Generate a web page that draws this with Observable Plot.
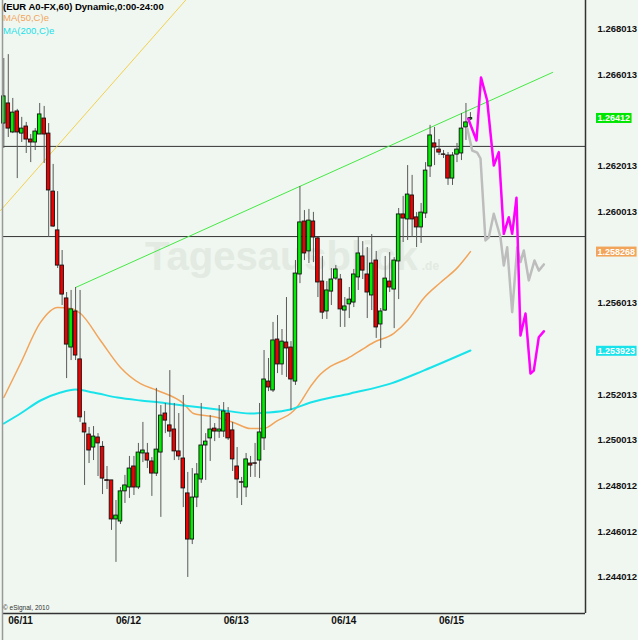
<!DOCTYPE html>
<html><head><meta charset="utf-8">
<script src="https://cdn.jsdelivr.net/npm/d3@7"></script>
<script src="https://cdn.jsdelivr.net/npm/@observablehq/plot@0.6"></script>
<style>
html,body{margin:0;padding:0;background:#f0f7f0;}
#wrap{position:relative;width:638px;height:640px;overflow:hidden;background:#f0f7f0;font-family:"Liberation Sans",Arial,sans-serif;}
#wm{position:absolute;left:145px;top:234px;font:bold 40px "Liberation Sans",Arial,sans-serif;color:#e2eae2;white-space:nowrap;}
#wm span{font-size:12px;margin-left:4px;}
#chart{position:absolute;left:0;top:0;}
.hdr{position:absolute;left:3px;font-size:9.5px;line-height:11px;white-space:nowrap;}
</style></head><body>
<div id="wrap">
  <div id="wm">Tagesausblick<span>.de</span></div>
  <div id="chart"></div>
  <div class="hdr" style="top:1px;font-weight:bold;color:#000">(EUR A0-FX,60) Dynamic,0:00-24:00</div>
  <div class="hdr" style="top:11.5px;color:#f2a45a">MA(50,C)e</div>
  <div class="hdr" style="top:24.5px;color:#19dfe8">MA(200,C)e</div>
  <div class="hdr" style="top:602px;font-size:6.5px;color:#333">© eSignal, 2010</div>
</div>
<script>
// ---- data (hourly candles, index 0 = 06/10 23:00) ----
const opens = [1.26388,1.26476,1.26349,1.26441,1.26344,1.26375,1.26318,1.26305,1.26340,1.26410,
1.26344,1.26090,1.25920,1.25766,1.25622,1.25407,1.25565,1.25355,1.25074,1.25026,
1.24969,1.25013,1.24972,1.24826,1.24825,1.24654,1.24645,1.24777,1.24794,1.24886,
1.24794,1.24943,1.24943,1.24908,1.24855,1.24947,1.25118,1.25066,1.25048,1.24952,
1.24921,1.24768,1.24566,1.24750,1.24829,1.24978,1.25009,1.25052,1.25039,1.25039,
1.25118,1.25044,1.24886,1.24817,1.24794,1.24899,1.24900,1.24912,1.25009,1.25258,
1.25219,1.25442,1.25333,1.25429,1.25407,1.25258,1.25727,1.25959,1.25828,1.25959,
1.25885,1.25696,1.25565,1.25652,1.25709,1.25705,1.25569,1.25596,1.25604,1.25714,
1.25806,1.25727,1.25635,1.25788,1.25508,1.25569,1.25696,1.25661,1.25784,1.25990,
1.25968,1.26073,1.25977,1.25933,1.25994,1.26200,1.26301,1.26274,1.26253,1.26248,
1.26147,1.26252,1.26257,1.26371,1.26406];
const highs = [1.26673,1.26690,1.26498,1.26450,1.26415,1.26393,1.26340,1.26366,1.26476,1.26463,
1.26388,1.26209,1.26090,1.25832,1.25648,1.25657,1.25670,1.25657,1.25127,1.25057,
1.25061,1.25030,1.24995,1.24886,1.24825,1.24737,1.24794,1.24847,1.24930,1.24930,
1.24987,1.25079,1.24987,1.24925,1.25228,1.25153,1.25162,1.25306,1.25162,1.25118,
1.25197,1.24860,1.24877,1.24899,1.25162,1.25030,1.25109,1.25074,1.25153,1.25166,
1.25144,1.25079,1.24969,1.24838,1.24943,1.24930,1.24987,1.25162,1.25394,1.25359,
1.25517,1.25547,1.25486,1.25626,1.25433,1.25788,1.26112,1.26007,1.26012,1.25999,
1.25889,1.25806,1.25696,1.25753,1.25766,1.25727,1.25626,1.25670,1.25749,1.25889,
1.25871,1.25845,1.25902,1.25828,1.25578,1.25806,1.25823,1.25801,1.26016,1.26069,
1.26204,1.26161,1.25998,1.26038,1.26217,1.26380,1.26371,1.26318,1.26270,1.26261,
1.26261,1.26301,1.26432,1.26476,1.26436];
const lows = [1.26279,1.26327,1.26344,1.26147,1.26305,1.26257,1.26217,1.26270,1.26340,1.26213,
1.25889,1.25933,1.25753,1.25591,1.25271,1.25350,1.25350,1.25079,1.24803,1.24899,
1.24912,1.24842,1.24763,1.24785,1.24606,1.24466,1.24632,1.24724,1.24746,1.24759,
1.24785,1.24903,1.24877,1.24755,1.24842,1.24663,1.25030,1.25013,1.24912,1.24912,
1.24706,1.24400,1.24544,1.24706,1.24812,1.24825,1.24908,1.24995,1.25009,1.25013,
1.25000,1.24864,1.24746,1.24715,1.24750,1.24838,1.24838,1.24833,1.24956,1.25214,
1.25210,1.25293,1.25285,1.25276,1.25131,1.25241,1.25687,1.25788,1.25775,1.25779,
1.25626,1.25530,1.25530,1.25591,1.25701,1.25495,1.25495,1.25534,1.25582,1.25657,
1.25705,1.25534,1.25569,1.25447,1.25403,1.25565,1.25648,1.25490,1.25617,1.25867,
1.25876,1.25889,1.25845,1.25863,1.25972,1.26152,1.26204,1.26248,1.26235,1.26117,
1.26117,1.26217,1.26226,1.26314,1.26401];
const closes = [1.26507,1.26366,1.26436,1.26349,1.26366,1.26318,1.26305,1.26353,1.26428,1.26340,
1.26095,1.25937,1.25766,1.25639,1.25420,1.25574,1.25372,1.25101,1.25035,1.24956,
1.25017,1.24987,1.24833,1.24823,1.24654,1.24671,1.24777,1.24803,1.24877,1.24794,
1.24947,1.24956,1.24912,1.24855,1.24960,1.25109,1.25087,1.25039,1.24952,1.24930,
1.24790,1.24566,1.24750,1.24851,1.24978,1.24995,1.25048,1.25039,1.25048,1.25127,
1.25009,1.24917,1.24829,1.24815,1.24917,1.24890,1.24898,1.25035,1.25267,1.25232,
1.25438,1.25333,1.25433,1.25403,1.25267,1.25731,1.25955,1.25819,1.25963,1.25889,
1.25692,1.25560,1.25657,1.25705,1.25749,1.25574,1.25587,1.25617,1.25727,1.25819,
1.25744,1.25648,1.25775,1.25495,1.25565,1.25709,1.25670,1.25788,1.25990,1.25972,
1.26077,1.25968,1.25933,1.25998,1.26182,1.26336,1.26283,1.26261,1.26251,1.26147,
1.26248,1.26274,1.26366,1.26393,1.26412];

const ma50Idx = [0,3.72,8.18,11.97,14.86,17.09,21.55,26.01,30.46,34.25,40.05,42.28,47.63,51.19,54.98,57.88,61.0,63.9,65.45,68.35,69.9,72.8,76.6,79.5,82.4,86.85,89.97,93.54,97.33,101.1,104];
const ma50 = [1.25188,1.25337,1.25517,1.25582,1.25578,1.25556,1.25438,1.25320,1.25249,1.25219,1.25162,1.25118,1.25101,1.25079,1.25052,1.25052,1.25087,1.25118,1.25149,1.25236,1.25276,1.25324,1.25359,1.25394,1.25429,1.25468,1.25525,1.25622,1.25692,1.25757,1.25827];
const ma200Idx = [0,3.72,8.18,12.64,15.98,19.99,25.34,30.46,34.92,40.05,47.63,54.98,58.77,63.9,68.35,77.27,86.18,93.54,104];
const ma200 = [1.25074,1.25118,1.25175,1.25210,1.25223,1.25210,1.25188,1.25175,1.25166,1.25153,1.25136,1.25118,1.25122,1.25136,1.25166,1.25206,1.25249,1.25306,1.25394];

const projAIdx = [103.5,105.35,106.35,107.73,109.2,110.32,111.43,112.55,113.3,114.26,115.15,116.27,117.38,118.12,119.23,120.35];
const projA = [1.26409,1.26314,1.26590,1.26489,1.26204,1.26263,1.25905,1.25978,1.25905,1.26063,1.25460,1.25556,1.25293,1.25306,1.25452,1.25478];
const projBIdx = [103.3,104.39,105.5,106.24,107.35,108.09,109.2,110.69,111.43,112.19,113.3,114.42,115.15,115.89,117.0,118.27,119.23,120.35];
const projB = [1.26366,1.26270,1.26261,1.26235,1.25876,1.25890,1.25993,1.25890,1.25766,1.25846,1.25562,1.25846,1.25781,1.25832,1.25701,1.25788,1.25744,1.25771];

const yellowIdx = [-0.74, 44.4];
const yellowVal = [1.26007, 1.27015];
const trendIdx = [16.0, 122.3];
const trendVal = [1.25670, 1.26612];
const hLevels = [1.26288, 1.25893];

// visible price ticks (1.264013, 1.258013 and 1.254013 sit under the value labels)
const yTicks = [1.268013,1.266013,1.262013,1.260013,1.256013,1.252013,1.250013,1.248012,1.246012,1.244012];
const dateTicks = [1, 25, 49, 73, 97];
const dateLabels = ["06/11","06/12","06/13","06/14","06/15"];
const valueLabels = [1.26412, 1.258268, 1.253923];
const valueTexts = ["1.26412", "1.258268", "1.253923"];
const valueColors = ["#00e600", "#f2a45a", "#19e3ea"];

// ---- layout ----
const xDom = [-0.29, 129.64];
const yDom = [1.242421, 1.26927];
const idx = d3.range(opens.length);
const up = idx.filter(i => closes[i] >= opens[i]);
const dn = idx.filter(i => closes[i] < opens[i]);
const pts = (xs, ys) => xs.map((x, i) => ({x, y: ys[i]}));

const chart = Plot.plot({
  width: 638, height: 640,
  marginLeft: 2, marginRight: 53, marginTop: 0, marginBottom: 27,
  style: {background: "transparent", fontFamily: "Liberation Sans, Arial, sans-serif", overflow: "visible"},
  x: {domain: xDom, axis: null},
  y: {domain: yDom, axis: null},
  marks: [
    Plot.ruleY(hLevels, {stroke: "#333", strokeWidth: 1}),
    Plot.line(pts(yellowIdx, yellowVal), {x: "x", y: "y", stroke: "#f2d04e", strokeWidth: 1}),
    Plot.line(pts(trendIdx, trendVal), {x: "x", y: "y", stroke: "#44e844", strokeWidth: 1}),
    Plot.line(pts(ma50Idx, ma50), {x: "x", y: "y", stroke: "#f2a45a", strokeWidth: 1.5, curve: "monotone-x"}),
    Plot.line(pts(ma200Idx, ma200), {x: "x", y: "y", stroke: "#19e3ea", strokeWidth: 2, curve: "monotone-x"}),
    Plot.ruleX(idx, {x: i => i, y1: i => lows[i], y2: i => highs[i], stroke: "#5a5a5a", strokeWidth: 1}),
    Plot.rect(up, {x1: i => i - 0.4, x2: i => i + 0.4, y1: i => opens[i], y2: i => closes[i], fill: "#00ee00", stroke: "#111", strokeWidth: 0.9}),
    Plot.rect(dn, {x1: i => i - 0.4, x2: i => i + 0.4, y1: i => opens[i], y2: i => closes[i], fill: "#ee0000", stroke: "#111", strokeWidth: 0.9}),
    Plot.line(pts(projBIdx, projB), {x: "x", y: "y", stroke: "#bdbdbd", strokeWidth: 2.5}),
    Plot.line(pts(projAIdx, projA), {x: "x", y: "y", stroke: "#ff00ff", strokeWidth: 2.5}),
    Plot.ruleX([xDom[1]], {stroke: "#333", strokeWidth: 1.5}),
    Plot.ruleY([yDom[0]], {stroke: "#333", strokeWidth: 1.5}),
    Plot.ruleX([xDom[0]], {y1: 1.24124, y2: yDom[1], stroke: "#999", strokeWidth: 1.5}),
    Plot.axisY(yTicks, {anchor: "right", label: null, tickSize: 0, tickPadding: 12, tickFormat: d => d.toFixed(6), fontSize: 9.5, fontWeight: "bold", fill: "#111"}),
    Plot.axisX(dateTicks, {anchor: "bottom", label: null, tickSize: 0, tickPadding: 3, tickFormat: d => dateLabels[dateTicks.indexOf(d)], textAnchor: "start", fontSize: 10, fontWeight: "bold", fill: "#111"}),
    Plot.text(valueLabels, {x: xDom[1], y: d => d, text: (d, i) => valueTexts[i], dx: 12, textAnchor: "start", fill: "white", fontSize: 9, fontWeight: "bold", className: "vlab"})
  ]
});
document.getElementById("chart").appendChild(chart);

// label backgrounds
d3.select(chart).selectAll("g.vlab text").each(function(d, i) {
  const b = this.getBBox();
  const r = document.createElementNS("http://www.w3.org/2000/svg", "rect");
  r.setAttribute("x", b.x - 1.5);
  r.setAttribute("y", b.y);
  r.setAttribute("width", b.width + 3);
  r.setAttribute("height", b.height);
  const t = this.getAttribute("transform");
  if (t) r.setAttribute("transform", t);
  r.setAttribute("fill", valueColors[i]);
  this.parentNode.insertBefore(r, this);
});
</script>
</body></html>
